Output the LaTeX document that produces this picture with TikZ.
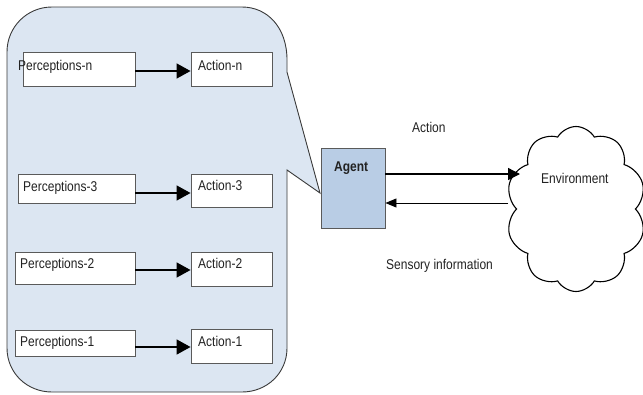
\documentclass[tikz,border=0pt]{standalone}
\usepackage{fontspec}
\usepackage{graphicx}
\setmainfont{Liberation Sans}
\usetikzlibrary{arrows.meta,shapes.symbols}
\definecolor{calloutfill}{HTML}{DCE6F2}
\definecolor{agentfill}{HTML}{B9CDE5}
\definecolor{edge}{HTML}{3A3A3A}
\definecolor{boxedge}{HTML}{5A5A5A}
\definecolor{ink}{HTML}{222222}
% slightly tall lettering
\newcommand\tall[1]{\scalebox{1}[1.18]{#1}}
\tikzset{
  x=1pt, y=-1pt,
  box/.style={draw=boxedge, line width=0.9pt, fill=white, inner sep=0pt},
  txt/.style={font=\fontsize{12}{14}\selectfont, text=ink, inner sep=0pt, anchor=base west},
  maparrow/.style={draw=black, line width=1.6pt, -{Triangle[length=14pt,width=15pt]}},
  actarrow/.style={draw=black, line width=1.3pt, -{Triangle[length=12pt,width=12pt]}},
  sensarrow/.style={draw=black, line width=0.9pt, -{Triangle[length=11pt,width=9pt]}},
}
\begin{document}
\begin{tikzpicture}
\useasboundingbox (0,0) rectangle (643,394);

% callout holding the percept-to-action table
\draw[draw=edge, line width=0.9pt, fill=calloutfill]
  (7,52) .. controls (7,27) and (27,7) .. (52,7) -- (242,7)
  .. controls (267,7) and (287,27) .. (287,60) -- (287,72)
  -- (320,193) -- (287,170) -- (287,348)
  .. controls (287,373) and (267,392) .. (242,392) -- (52,392)
  .. controls (27,392) and (7,373) .. (7,348) -- cycle;

% percept boxes
\node[box, minimum width=112pt, minimum height=34pt] (pn) at (79,69) {};
\node[box, minimum width=117pt, minimum height=29pt] (p3) at (76.5,188.5) {};
\node[box, minimum width=120pt, minimum height=32pt] (p2) at (75,268) {};
\node[box, minimum width=120pt, minimum height=26pt] (p1) at (75,343) {};
% action boxes
\node[box, minimum width=81pt, minimum height=34pt] (an) at (231.5,69) {};
\node[box, minimum width=81pt, minimum height=33pt] (a3) at (231.5,190.5) {};
\node[box, minimum width=81pt, minimum height=34pt] (a2) at (231.5,269) {};
\node[box, minimum width=81pt, minimum height=34pt] (a1) at (231.5,346) {};

\node[txt] (tpn) at (18,70)  {\tall{Perceptions-n}};
\node[txt] (tp3) at (23,191) {\tall{Perceptions-3}};
\node[txt] (tp2) at (20,268) {\tall{Perceptions-2}};
\node[txt] (tp1) at (20,346) {\tall{Perceptions-1}};
\node[txt] (tan) at (198,70)  {\tall{Action-n}};
\node[txt] (ta3) at (198,190) {\tall{Action-3}};
\node[txt] (ta2) at (198,268) {\tall{Action-2}};
\node[txt] (ta1) at (198,346) {\tall{Action-1}};

\draw[maparrow] ([yshift=-2pt]pn.east) -- ([yshift=-2pt]pn.east -| an.west);
\draw[maparrow] ([yshift=-4.5pt]p3.east) -- ([yshift=-4.5pt]p3.east -| a3.west);
\draw[maparrow] ([yshift=-2pt]p2.east) -- ([yshift=-2pt]p2.east -| a2.west);
\draw[maparrow] ([yshift=-4pt]p1.east) -- ([yshift=-4pt]p1.east -| a1.west);

% agent
\node[draw=boxedge, line width=0.9pt, fill=agentfill, minimum width=64pt, minimum height=80pt, inner sep=0pt] (agent) at (353,188) {};
\node[txt, font=\fontsize{12}{14}\selectfont\bfseries] (tag) at (334,171) {\tall{Agent}};

% environment
\node[cloud, draw=black, line width=1.1pt, fill=white, cloud puffs=10, cloud puff arc=120,
      cloud ignores aspect, minimum width=140pt, minimum height=165pt] (env) at (576,209) {};
\node[txt] (tenv) at (541,183) {\tall{Environment}};

\coordinate (acttip) at (520,174);
\coordinate (senstail) at (508,203);
\draw[actarrow] ([yshift=14pt]agent.east) -- (acttip);
\draw[sensarrow] (senstail) -- ([yshift=-15pt]agent.east);

\node[txt] (tact) at (412,132) {\tall{Action}};
\node[txt] (tsens) at (386,269) {\tall{Sensory information}};
\end{tikzpicture}
\end{document}
